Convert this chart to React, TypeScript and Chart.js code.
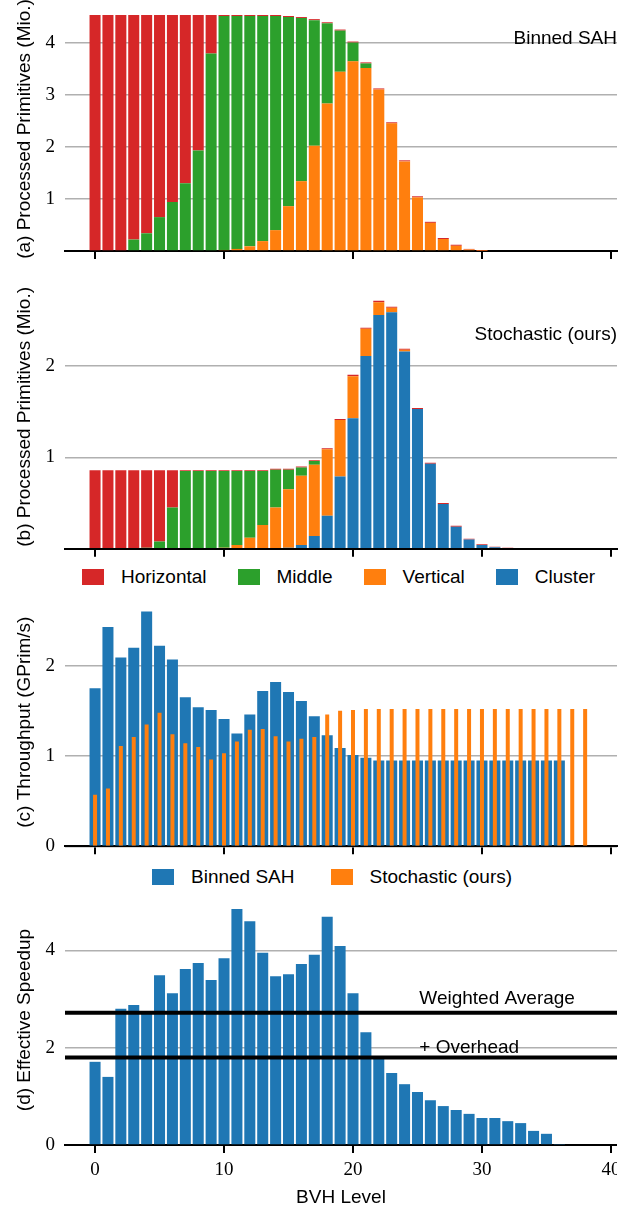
import React, { useEffect, useRef } from "react";
import { Chart, registerables } from "chart.js";

Chart.register(...registerables);

// ---------- data ----------
const bvhLevels = [0, 1, 2, 3, 4, 5, 6, 7, 8, 9, 10, 11, 12, 13, 14, 15, 16, 17, 18, 19, 20, 21, 22, 23, 24, 25, 26, 27, 28, 29, 30, 31, 32, 33, 34, 35, 36, 37, 38];
const xTickLabels = [0, 10, 20, 30, 40];

// (a) Binned SAH: processed primitives (Mio.) per split type
const sahHorizontal = [4.53, 4.53, 4.53, 4.31, 4.19, 3.88, 3.59, 3.23, 2.6, 0.74, 0.02, 0.02, 0.02, 0.02, 0.02, 0.02, 0.02, 0.02, 0.02, 0.02, 0.02, 0.02, 0.02, 0.02, 0.02, 0.02, 0.02, 0.02, 0.02, 0.01, 0.01];
const sahMiddle = [0, 0, 0, 0.22, 0.34, 0.65, 0.94, 1.3, 1.93, 3.79, 4.49, 4.47, 4.42, 4.32, 4.11, 3.63, 3.13, 2.41, 1.54, 0.79, 0.36, 0.09, 0, 0, 0, 0, 0, 0, 0, 0, 0];
const sahVertical = [0, 0, 0, 0, 0, 0, 0, 0, 0, 0, 0.02, 0.04, 0.09, 0.19, 0.4, 0.86, 1.34, 2.02, 2.83, 3.44, 3.64, 3.51, 3.1, 2.45, 1.72, 1.03, 0.54, 0.23, 0.1, 0.03, 0.005];

// (b) Stochastic (ours): processed primitives (Mio.) per split type
const stoHorizontal = [0.86, 0.86, 0.86, 0.86, 0.85, 0.78, 0.41, 0.01, 0.01, 0.01, 0.01, 0.01, 0.01, 0.01, 0.01, 0.01, 0.01, 0.01, 0.01, 0.01, 0.015, 0.01, 0.015, 0.01, 0.01, 0.01, 0.01, 0.01, 0.01, 0.01, 0.01, 0.005, 0.01];
const stoMiddle = [0, 0, 0, 0, 0.01, 0.08, 0.45, 0.85, 0.85, 0.85, 0.84, 0.81, 0.73, 0.59, 0.415, 0.215, 0.09, 0.04, 0, 0, 0, 0, 0, 0, 0, 0, 0, 0, 0, 0, 0, 0, 0];
const stoVertical = [0, 0, 0, 0, 0, 0, 0, 0, 0, 0, 0.01, 0.04, 0.12, 0.26, 0.45, 0.64, 0.76, 0.78, 0.73, 0.62, 0.46, 0.3, 0.14, 0.05, 0.02, 0, 0, 0, 0, 0, 0, 0, 0];
const stoCluster = [0, 0, 0, 0, 0, 0, 0, 0, 0, 0, 0, 0, 0, 0, 0, 0.01, 0.04, 0.14, 0.36, 0.79, 1.43, 2.11, 2.56, 2.59, 2.16, 1.53, 0.93, 0.49, 0.24, 0.1, 0.04, 0.015, 0];

// (c) Throughput (GPrim/s)
const sahThroughput = [1.75, 2.43, 2.09, 2.2, 2.6, 2.22, 2.07, 1.65, 1.54, 1.51, 1.41, 1.25, 1.46, 1.72, 1.82, 1.71, 1.61, 1.44, 1.23, 1.09, 1.01, 0.98, 0.95, 0.95, 0.95, 0.95, 0.95, 0.95, 0.95, 0.95, 0.95, 0.95, 0.95, 0.95, 0.95, 0.95, 0.95];
const stoThroughput = [0.57, 0.64, 1.11, 1.21, 1.35, 1.48, 1.24, 1.14, 1.1, 0.96, 1.03, 1.16, 1.29, 1.3, 1.22, 1.16, 1.19, 1.21, 1.46, 1.5, 1.51, 1.52, 1.52, 1.52, 1.52, 1.52, 1.52, 1.52, 1.52, 1.52, 1.52, 1.52, 1.52, 1.52, 1.52, 1.52, 1.52, 1.52, 1.52];

// (d) Effective speedup
const speedup = [1.71, 1.4, 2.8, 2.88, 2.73, 3.49, 3.12, 3.62, 3.74, 3.39, 3.84, 4.85, 4.6, 3.95, 3.47, 3.51, 3.72, 3.91, 4.69, 4.09, 3.12, 2.32, 1.78, 1.48, 1.25, 1.09, 0.92, 0.8, 0.72, 0.64, 0.555, 0.555, 0.49, 0.45, 0.29, 0.23, 0.01];
const weightedAverage = 2.72;
const withOverhead = 1.8;

// ---------- styling ----------
const RED = "#d62728";
const GREEN = "#2ca02c";
const ORANGE = "#ff7f0e";
const BLUE = "#1f77b4";
const SANS = "'Liberation Sans', Arial, Helvetica, sans-serif";
const SERIF = "'Liberation Serif', 'Times New Roman', serif";
const X_MIN = -2.33;
const X_MAX = 40.47;

const splitLegend = [
  { label: "Horizontal", color: RED },
  { label: "Middle", color: GREEN },
  { label: "Vertical", color: ORANGE },
  { label: "Cluster", color: BLUE },
];
const methodLegend = [
  { label: "Binned SAH", color: BLUE },
  { label: "Stochastic (ours)", color: ORANGE },
];

const pts = (vals: number[]) => vals.map((v, i) => ({ x: bvhLevels[i], y: v }));

type Note = { text: string; x: number | "right"; y: number; align: CanvasTextAlign };

function notesPlugin(notes: Note[]) {
  return {
    id: "panelNotes",
    afterDatasetsDraw(chart: any) {
      const { ctx, chartArea, scales } = chart;
      ctx.save();
      ctx.font = `19px ${SANS}`;
      ctx.fillStyle = "#000";
      ctx.textBaseline = "alphabetic";
      for (const n of notes) {
        const px = n.x === "right" ? chartArea.right : scales.x.getPixelForValue(n.x);
        const py = scales.y.getPixelForValue(n.y);
        ctx.textAlign = n.align;
        ctx.fillText(n.text, px, py);
      }
      ctx.restore();
    },
  };
}

type PanelOpts = {
  padTop: number;
  xHeight: number;
  yMax: number;
  yStep: number;
  yTitle: string;
  stacked: boolean;
  hideZero: boolean;
  showXTicks: boolean;
  xTitle?: string;
};

function makeOptions(p: PanelOpts): any {
  return {
    responsive: false,
    animation: false,
    devicePixelRatio: 1,
    events: [],
    layout: { padding: { top: p.padTop, right: 17, bottom: 0, left: 0 } },
    plugins: { legend: { display: false }, tooltip: { enabled: false }, title: { display: false } },
    scales: {
      x: {
        type: "linear",
        min: X_MIN,
        max: X_MAX,
        offset: false,
        stacked: p.stacked,
        afterBuildTicks: (s: any) => {
          s.ticks = xTickLabels.map((v) => ({ value: v }));
        },
        grid: {
          display: true,
          offset: false,
          drawOnChartArea: false,
          drawTicks: true,
          tickLength: 8,
          color: "#000",
          lineWidth: 2,
        },
        border: { display: true, color: "#000", width: 2 },
        ticks: {
          display: p.showXTicks,
          stepSize: 10,
          includeBounds: false,
          autoSkip: false,
          maxRotation: 0,
          font: { family: SERIF, size: 19 },
          color: "#000",
          padding: 6,
        },
        title: {
          display: !!p.xTitle,
          text: p.xTitle || "",
          font: { family: SANS, size: 19 },
          color: "#000",
          padding: { top: 0, bottom: 1.6 },
        },
        afterFit: (s: any) => {
          s.height = p.xHeight;
          s.paddingLeft = 0;
          s.paddingRight = 0;
        },
      },
      y: {
        type: "linear",
        min: 0,
        max: p.yMax,
        stacked: p.stacked,
        grid: { color: "#b0b0b0", lineWidth: 1.6, drawTicks: false },
        border: { display: false },
        ticks: {
          stepSize: p.yStep,
          includeBounds: false,
          font: { family: SERIF, size: 19 },
          color: "#000",
          padding: 10,
          callback: (v: any) => (p.hideZero && v === 0 ? "" : String(v)),
        },
        title: {
          display: true,
          text: p.yTitle,
          font: { family: SANS, size: 19 },
          color: "#000",
          padding: { top: 13.6, bottom: 0 },
        },
        afterFit: (s: any) => {
          s.width = 65;
          s.paddingTop = 0;
          s.paddingBottom = 0;
        },
      },
    },
  };
}

const barStyle = { borderWidth: 0, barPercentage: 0.855, categoryPercentage: 1 };

function configA(): any {
  return {
    type: "bar",
    data: {
      datasets: [
        { label: "Vertical", data: pts(sahVertical), backgroundColor: ORANGE, ...barStyle },
        { label: "Middle", data: pts(sahMiddle), backgroundColor: GREEN, ...barStyle },
        { label: "Horizontal", data: pts(sahHorizontal), backgroundColor: RED, ...barStyle },
      ],
    },
    options: makeOptions({
      padTop: 7,
      xHeight: 19,
      yMax: 4.683,
      yStep: 1,
      yTitle: "(a) Processed Primitives (Mio.)",
      stacked: true,
      hideZero: true,
      showXTicks: false,
    }),
    plugins: [notesPlugin([{ text: "Binned SAH", x: "right", y: 3.98, align: "right" }])],
  };
}

function configB(): any {
  return {
    type: "bar",
    data: {
      datasets: [
        { label: "Cluster", data: pts(stoCluster), backgroundColor: BLUE, ...barStyle },
        { label: "Vertical", data: pts(stoVertical), backgroundColor: ORANGE, ...barStyle },
        { label: "Middle", data: pts(stoMiddle), backgroundColor: GREEN, ...barStyle },
        { label: "Horizontal", data: pts(stoHorizontal), backgroundColor: RED, ...barStyle },
      ],
    },
    options: makeOptions({
      padTop: 15,
      xHeight: 16.3,
      yMax: 2.888,
      yStep: 1,
      yTitle: "(b) Processed Primitives (Mio.)",
      stacked: true,
      hideZero: true,
      showXTicks: false,
    }),
    plugins: [notesPlugin([{ text: "Stochastic (ours)", x: "right", y: 2.286, align: "right" }])],
  };
}

function configC(): any {
  return {
    type: "bar",
    data: {
      datasets: [
        { label: "Binned SAH", data: pts(sahThroughput), backgroundColor: BLUE, grouped: false, order: 2, ...barStyle },
        { label: "Stochastic (ours)", data: pts(stoThroughput), backgroundColor: ORANGE, grouped: false, order: 1, borderWidth: 0, barPercentage: 0.31, categoryPercentage: 1 },
      ],
    },
    options: makeOptions({
      padTop: 3,
      xHeight: 13.7,
      yMax: 2.75,
      yStep: 1,
      yTitle: "(c) Throughput (GPrim/s)",
      stacked: false,
      hideZero: false,
      showXTicks: false,
    }),
  };
}

function configD(): any {
  const lineStyle = { type: "line", borderColor: "#000", borderWidth: 4, pointRadius: 0, fill: false, order: 0, borderCapStyle: "butt" };
  return {
    type: "bar",
    data: {
      datasets: [
        { label: "Effective Speedup", data: pts(speedup), backgroundColor: BLUE, order: 1, ...barStyle },
        { label: "Weighted Average", data: [{ x: X_MIN, y: weightedAverage }, { x: X_MAX, y: weightedAverage }], ...lineStyle },
        { label: "+ Overhead", data: [{ x: X_MIN, y: withOverhead }, { x: X_MAX, y: withOverhead }], ...lineStyle },
      ],
    },
    options: makeOptions({
      padTop: 5,
      xHeight: 66,
      yMax: 5.139,
      yStep: 2,
      yTitle: "(d) Effective Speedup",
      stacked: false,
      hideZero: false,
      showXTicks: true,
      xTitle: "BVH Level",
    }),
    plugins: [
      notesPlugin([
        { text: "Weighted Average", x: 25.14, y: 2.892, align: "left" },
        { text: "+ Overhead", x: 25.14, y: 1.885, align: "left" },
      ]),
    ],
  };
}

function Panel({ build, top, height, clipWidth }: { build: () => any; top: number; height: number; clipWidth?: number }) {
  const ref = useRef<HTMLCanvasElement>(null);
  useEffect(() => {
    const chart = new Chart(ref.current as HTMLCanvasElement, build());
    return () => chart.destroy();
  }, []);
  return (
    <div style={{ position: "absolute", left: 0, top, width: clipWidth ?? 634, height, overflow: "hidden" }}>
      <canvas ref={ref} width={634} height={height} style={{ display: "block", width: 634, height }} />
    </div>
  );
}

function Legend({ items, top, left, gap }: { items: { label: string; color: string }[]; top: number; left: number; gap: number }) {
  return (
    <div
      style={{
        position: "absolute",
        top,
        left,
        height: 24,
        display: "flex",
        alignItems: "center",
        gap,
        fontFamily: SANS,
        fontSize: 19,
        color: "#000",
        lineHeight: "24px",
        whiteSpace: "nowrap",
      }}
    >
      {items.map((it) => (
        <div key={it.label} style={{ display: "flex", alignItems: "center" }}>
          <span style={{ display: "inline-block", width: 22, height: 16, background: it.color, marginRight: 17 }} />
          <span>{it.label}</span>
        </div>
      ))}
    </div>
  );
}

export default function App() {
  return (
    <div style={{ position: "absolute", left: 0, top: 0, width: 634, height: 1211, background: "#fff", overflow: "hidden" }}>
      <Panel build={configA} top={0} height={270} />
      <Panel build={configB} top={270} height={295} />
      <Legend items={splitLegend} top={565} left={82} gap={31} />
      <Panel build={configC} top={595} height={265} />
      <Legend items={methodLegend} top={865} left={152} gap={36} />
      <Panel build={configD} top={890} height={321} clipWidth={617} />
    </div>
  );
}
